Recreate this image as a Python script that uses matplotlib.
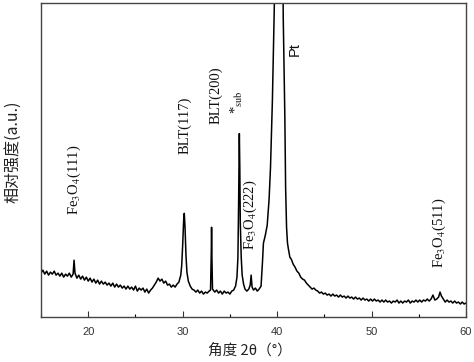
import matplotlib
matplotlib.use("Agg")
import matplotlib.pyplot as plt
from matplotlib.ticker import MultipleLocator

plt.rcParams['mathtext.fontset'] = 'stix'

two_theta = [
    15.0, 15.2, 15.4, 15.6, 15.8, 16.0, 16.2, 16.4, 16.6, 16.8,
    17.0, 17.2, 17.4, 17.6, 17.8, 18.0, 18.2, 18.4, 18.5, 18.6,
    18.8, 19.0, 19.2, 19.4, 19.6, 19.8, 20.0, 20.2, 20.4, 20.6,
    20.8, 21.0, 21.2, 21.4, 21.6, 21.8, 22.0, 22.2, 22.4, 22.6,
    22.8, 23.0, 23.2, 23.4, 23.6, 23.8, 24.0, 24.2, 24.4, 24.6,
    24.8, 25.0, 25.2, 25.4, 25.6, 25.8, 26.0, 26.2, 26.4, 26.6,
    26.8, 27.0, 27.2, 27.4, 27.6, 27.8, 28.0, 28.2, 28.4, 28.6,
    28.8, 29.0, 29.2, 29.4, 29.6, 29.8, 29.9, 30.0, 30.1, 30.17,
    30.25, 30.35, 30.45, 30.6, 30.8, 31.0, 31.2, 31.4, 31.6, 31.8,
    32.0, 32.2, 32.4, 32.6, 32.8, 32.95, 33.03, 33.06, 33.1, 33.16,
    33.4, 33.6, 33.8, 34.0, 34.2, 34.4, 34.6, 34.8, 35.0, 35.2,
    35.4, 35.6, 35.75, 35.85, 35.93, 36.0, 36.05, 36.1, 36.2, 36.3,
    36.45, 36.6, 36.8, 37.0, 37.15, 37.25, 37.35, 37.5, 37.7, 37.9,
    38.1, 38.3, 38.45, 38.55, 38.75, 38.95, 39.15, 39.3, 39.4, 39.5,
    39.6, 39.7, 39.8, 40.2, 40.55, 40.65, 40.75, 40.82, 40.9, 41.0,
    41.1, 41.2, 41.35, 41.5, 41.7, 41.9, 42.1, 42.3, 42.5, 42.7,
    42.9, 43.1, 43.3, 43.5, 43.7, 43.9, 44.1, 44.3, 44.5, 44.7,
    44.9, 45.1, 45.3, 45.5, 45.7, 45.9, 46.1, 46.3, 46.5, 46.7,
    46.9, 47.1, 47.3, 47.5, 47.7, 47.9, 48.1, 48.3, 48.5, 48.7,
    48.9, 49.1, 49.3, 49.5, 49.7, 49.9, 50.1, 50.3, 50.5, 50.7,
    50.9, 51.1, 51.3, 51.5, 51.7, 51.9, 52.1, 52.3, 52.5, 52.7,
    52.9, 53.1, 53.3, 53.5, 53.7, 53.9, 54.1, 54.3, 54.5, 54.7,
    54.9, 55.1, 55.3, 55.5, 55.7, 55.9, 56.1, 56.3, 56.5, 56.7,
    56.9, 57.1, 57.25, 57.4, 57.6, 57.8, 58.0, 58.2, 58.4, 58.6,
    58.8, 59.0, 59.2, 59.4, 59.6, 59.8, 60.0,
]
intensity = [
    44, 47, 43, 46, 42, 45, 43, 46, 42, 44,
    41, 44, 40, 43, 41, 44, 40, 43, 57, 44,
    39, 42, 38, 41, 37, 40, 36, 39, 35, 38,
    34, 37, 33, 36, 33, 35, 32, 34, 31, 34,
    30, 33, 30, 32, 29, 31, 28, 31, 28, 30,
    27, 31, 26, 29, 27, 29, 25, 28, 24, 27,
    29, 32, 35, 39, 36, 38, 34, 36, 32, 33,
    30, 32, 30, 33, 35, 42, 52, 72, 96, 104,
    90, 62, 45, 36, 31, 28, 27, 25, 27, 24,
    26, 23, 25, 24, 26, 27, 65, 90, 58, 28,
    25, 27, 24, 26, 23, 26, 24, 25, 23, 26,
    27, 31, 40, 60, 120, 184, 150, 95, 60, 42,
    33, 28, 26, 28, 32, 42, 30, 27, 29, 26,
    28, 31, 55, 74, 82, 92, 118, 150, 184, 217,
    262, 310, 420, 1000, 420, 300, 240, 200, 130, 90,
    74, 68, 60, 58, 53, 50, 46, 44, 40, 38,
    37, 34, 32, 30, 28, 29, 27, 26, 24, 25,
    23, 24, 22, 23, 21, 23, 21, 22, 20, 22,
    20, 21, 19, 21, 19, 20, 18, 20, 18, 19,
    17, 19, 17, 18, 16, 18, 16, 18, 16, 17,
    15, 17, 15, 17, 15, 16, 14, 16, 15, 17,
    14, 16, 14, 16, 15, 17, 14, 16, 15, 17,
    15, 17, 15, 17, 16, 18, 16, 18, 22, 17,
    18, 20, 25, 21, 18, 15, 17, 15, 16, 14,
    16, 14, 15, 13, 15, 13, 14,
]

peak_labels = ["Fe$_3$O$_4$(111)", "BLT(117)", "BLT(200)", "*$_{\\rm sub}$",
               "Fe$_3$O$_4$(222)", "Pt", "Fe$_3$O$_4$(511)"]
label_x = [18.5, 30.2, 33.5, 35.8, 37.2, 41.9, 57.2]
label_y = [102, 164, 194, 204, 67, 262, 49]

xlim = (15, 60)
ylim = (0, 315)

fig = plt.figure(figsize=(4.74, 3.62), dpi=100)
ax = fig.add_axes([41/474, 1-317/362, (466-41)/474, (317-3)/362])
ax.plot(two_theta, intensity, color='black', lw=1.1)
ax.set_xlim(*xlim)
ax.set_ylim(*ylim)

ax.xaxis.set_major_locator(MultipleLocator(10))
ax.xaxis.set_minor_locator(MultipleLocator(5))
ax.tick_params(axis='x', which='major', direction='in', length=4, width=0.8,
               labelsize=8, pad=7, top=False, colors='#333333')
ax.tick_params(axis='x', which='minor', direction='in', length=2.5, width=0.8, top=False)
ax.tick_params(axis='y', which='both', left=False, labelleft=False)
for lab in ax.get_xticklabels():
    lab.set_fontfamily('Liberation Sans')
for sp in ax.spines.values():
    sp.set_color('#444444')
    sp.set_linewidth(1.0)

for t, x, y in zip(peak_labels, label_x, label_y):
    fam = 'Liberation Sans' if t == "Pt" else 'Liberation Serif'
    ax.text(x, y, t, rotation=90, ha='center', va='bottom', fontsize=10.5,
            family=fam, color='#111111')

cjk = ['Noto Sans CJK SC', 'DejaVu Sans']
fig.text(250/474, 1-350/362, "角度 2θ（°）", ha='center', va='center',
         fontsize=10.5, family=cjk, color='#222222')
fig.text(13/474, 1-152/362, "相对强度(a.u.)", ha='center', va='center',
         rotation=90, fontsize=11.5, family=cjk, color='#222222')

fig.savefig("out.png", dpi=100)
